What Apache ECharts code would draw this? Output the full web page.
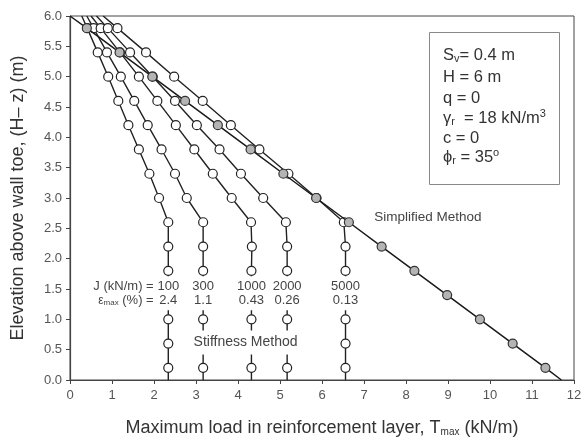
<!DOCTYPE html>
<html>
<head>
<meta charset="utf-8">
<script src="https://cdn.jsdelivr.net/npm/echarts@6/dist/echarts.min.js"></script>
<style>
html,body{margin:0;padding:0;background:#fff;}
#c{width:584px;height:438px;}
</style>
</head>
<body>
<div id="c"></div>
<script>
// Elevation (m) of each point; first and last are line end points without markers
const elev = [0, 0.2, 0.6, 1.0, 1.4, 1.8, 2.2, 2.6, 3.0, 3.4, 3.8, 4.2, 4.6, 5.0, 5.4, 5.8, 6.0];
// Stiffness method, Tmax (kN/m)
const tJ100  = [2.34, 2.34, 2.34, 2.34, 2.34, 2.34, 2.34, 2.34, 2.12, 1.89, 1.64, 1.39, 1.15, 0.91, 0.66, 0.41, 0.28];
const tJ300  = [3.17, 3.17, 3.17, 3.17, 3.17, 3.17, 3.17, 3.17, 2.78, 2.50, 2.18, 1.85, 1.53, 1.21, 0.88, 0.56, 0.40];
const tJ1000 = [4.32, 4.32, 4.32, 4.32, 4.32, 4.32, 4.33, 4.31, 3.85, 3.40, 2.96, 2.52, 2.08, 1.64, 1.19, 0.73, 0.50];
const tJ2000 = [5.17, 5.17, 5.17, 5.17, 5.17, 5.17, 5.17, 5.14, 4.60, 4.07, 3.56, 3.02, 2.50, 1.97, 1.43, 0.90, 0.63];
const tJ5000 = [6.56, 6.56, 6.56, 6.56, 6.56, 6.56, 6.56, 6.52, 5.87, 5.20, 4.51, 3.83, 3.16, 2.48, 1.81, 1.13, 0.79];
// Simplified method, Tmax (kN/m)
const tSimple = [11.70, 11.32, 10.54, 9.76, 8.98, 8.20, 7.42, 6.64, 5.86, 5.08, 4.30, 3.52, 2.74, 1.96, 1.18, 0.40, 0.00];

const stiffCurves = [tJ100, tJ300, tJ1000, tJ2000, tJ5000];
const jLabels = ['100', '300', '1000', '2000', '5000'];
const epsLabels = ['2.4', '1.1', '0.43', '0.26', '0.13'];
const xTicks = [0, 12, 1];
const yTicks = [0, 6, 0.5];

const FONT = '"Liberation Sans", Arial, sans-serif';
const TXT = '#444';

function pts(tv) {
  return tv.map((t, i) => {
    const d = { value: [t, elev[i]] };
    if (i === 0 || i === tv.length - 1) d.symbol = 'none';
    return d;
  });
}

const series = stiffCurves.map((tv, k) => ({
  type: 'line',
  name: 'J=' + jLabels[k],
  data: pts(tv),
  symbol: 'circle',
  symbolSize: 9,
  showAllSymbol: true,
  z: 2,
  lineStyle: { color: '#222', width: 1.4 },
  itemStyle: { color: '#fff', borderColor: '#222', borderWidth: 1.2 },
  emphasis: { disabled: true },
  animation: false
}));
series.push({
  type: 'line',
  name: 'Simplified',
  data: pts(tSimple),
  symbol: 'circle',
  symbolSize: 9,
  showAllSymbol: true,
  z: 3,
  lineStyle: { color: '#1a1a1a', width: 1.5 },
  itemStyle: { color: '#b4b4b4', borderColor: '#333', borderWidth: 1.2 },
  emphasis: { disabled: true },
  animation: false
});

const chart = echarts.init(document.getElementById('c'), null, { renderer: 'canvas' });
chart.setOption({
  backgroundColor: '#fff',
  animation: false,
  textStyle: { fontFamily: FONT },
  grid: { left: 70, right: 10, top: 16, bottom: 58, containLabel: false, outerBoundsMode: 'none',
    show: true, borderColor: '#444', borderWidth: 1, backgroundColor: 'transparent' },
  xAxis: {
    type: 'value', min: xTicks[0], max: xTicks[1], interval: xTicks[2],
    axisLine: { show: true, onZero: false, lineStyle: { color: '#444', width: 1.2 } },
    axisTick: { show: true, length: 4, lineStyle: { color: '#444' } },
    axisLabel: { fontSize: 13, color: '#555', margin: 9, fontFamily: FONT },
    splitLine: { show: false },
    name: 'Maximum load in reinforcement layer, T{sub|max} (kN/m)',
    nameLocation: 'middle', nameGap: 39,
    nameTextStyle: { fontSize: 18, color: '#333', fontFamily: FONT,
      rich: { sub: { fontSize: 10, color: '#333', verticalAlign: 'bottom', padding: [7, 0, 0, 0], fontFamily: FONT } } }
  },
  yAxis: {
    type: 'value', min: yTicks[0], max: yTicks[1], interval: yTicks[2],
    axisLine: { show: true, onZero: false, lineStyle: { color: '#444', width: 1.2 } },
    axisTick: { show: true, length: 4, lineStyle: { color: '#444' } },
    axisLabel: { fontSize: 13, color: '#555', margin: 8, fontFamily: FONT, formatter: v => v.toFixed(1) },
    splitLine: { show: false },
    name: 'Elevation above wall toe, (H\u2013 z) (m)',
    nameLocation: 'middle', nameGap: 43,
    nameTextStyle: { fontSize: 18, color: '#333', fontFamily: FONT }
  },
  series: series
});

function px(x, y) { return chart.convertToPixel({ gridIndex: 0 }, [x, y]); }

const graphics = [];
// J / eps labels on each stiffness curve
const labelElev = 1.43;
stiffCurves.forEach((tv, k) => {
  const p = px(tv[1], labelElev);
  graphics.push({
    type: 'text', x: p[0], y: p[1], z: 100,
    style: {
      text: jLabels[k] + '\n' + epsLabels[k],
      fill: TXT, font: '13px ' + FONT, lineHeight: 14,
      align: 'center', verticalAlign: 'middle',
      backgroundColor: '#fff', padding: [3, 2, 3, 2]
    }
  });
  if (k === 0) {
    graphics.push({
      type: 'text', x: p[0] - 11, y: p[1], z: 100,
      style: {
        text: 'J (kN/m) = \n{e|\u03b5}{s|max} (%) = ',
        fill: TXT, font: '13px ' + FONT, lineHeight: 14,
        align: 'right', verticalAlign: 'middle',
        backgroundColor: '#fff', padding: [3, 0, 3, 2],
        rich: {
          e: { fill: TXT, font: '12px ' + FONT },
          s: { fill: TXT, font: '8px ' + FONT, verticalAlign: 'bottom', padding: [4, 0, 0, 0] }
        }
      }
    });
  }
});
const sm = px(4.18, 0.62);
graphics.push({
  type: 'text', x: sm[0], y: sm[1], z: 100,
  style: { text: 'Stiffness Method', fill: TXT, font: '14px ' + FONT, align: 'center', verticalAlign: 'middle',
    backgroundColor: '#fff', padding: [5, 3, 5, 3] }
});
const sp = px(8.52, 2.69);
graphics.push({
  type: 'text', x: sp[0], y: sp[1], z: 100,
  style: { text: 'Simplified Method', fill: TXT, font: '13.5px ' + FONT, align: 'center', verticalAlign: 'middle' }
});

// Parameter box
graphics.push({
  type: 'rect', z: 90,
  shape: { x: 429.5, y: 32.5, width: 130, height: 152 },
  style: { fill: '#fff', stroke: '#888', lineWidth: 1 }
});
const boxLines = [
  'S{sub|v}= 0.4 m',
  'H = 6 m',
  'q = 0',
  '\u03b3{sub|r}  = 18 kN/m{sup|3}',
  'c = 0',
  '\u03d5{sub|r} = 35{sup|o}'
];
const boxY = [55, 77, 98, 118, 138, 157];
boxLines.forEach((t, i) => {
  graphics.push({
    type: 'text', x: 443, y: boxY[i], z: 101,
    style: {
      text: t, fill: '#333', font: '16.5px ' + FONT, align: 'left', verticalAlign: 'middle',
      rich: {
        sub: { fill: '#333', font: '11px ' + FONT, verticalAlign: 'bottom', padding: [8, 0, 0, 0] },
        sup: { fill: '#333', font: '11px ' + FONT, verticalAlign: 'top', padding: [0, 0, 8, 0] }
      }
    }
  });
});

chart.setOption({ graphic: graphics });
</script>
</body>
</html>
